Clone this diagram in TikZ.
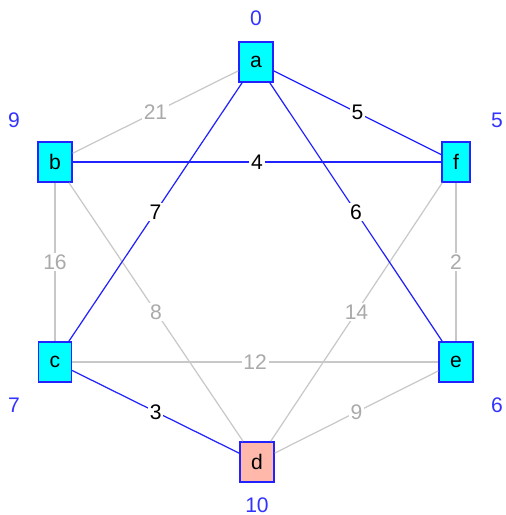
\documentclass[tikz,border=0pt]{standalone}
\usepackage{fontspec}
\setmainfont{Liberation Sans}
\usepackage{tikz}
\usepackage{xcolor}
\usetikzlibrary{arrows.meta,positioning}
\definecolor{vtxcyan} {HTML}{00FFFF}
\definecolor{vtxpink} {HTML}{FFB8AA}
\definecolor{treeblue}{HTML}{2222FF}
\definecolor{keyblue} {HTML}{3333FF}
\definecolor{restgray}{HTML}{C8C8C8}
\tikzset{
  vtxbox/.style   ={draw=treeblue, fill=vtxcyan, line width=0.9pt,
                    minimum height=0.8cm, inner xsep=6.3pt,
                    font=\fontsize{12}{14}\selectfont},
  startbox/.style ={vtxbox, fill=vtxpink},
  keylbl/.style   ={text=keyblue, font=\fontsize{12}{14}\selectfont},
  treeedge/.style ={draw=treeblue, line width=0.7pt},
  restedge/.style ={draw=restgray, line width=0.7pt},
  treewt/.style   ={midway, fill=white, inner sep=1pt, text=black,
                    font=\fontsize{12}{14}\selectfont},
  restwt/.style   ={midway, fill=white, inner sep=1pt, text=restgray!85!black,
                    font=\fontsize{12}{14}\selectfont},
}

\begin{document}
\begin{tikzpicture}[x=0.02cm,y=-0.02cm]
    \useasboundingbox (0,0) rectangle (505,515);
    % vertices
    \node[vtxbox]   (a) at (256,62)  {a};
    \node[vtxbox]   (b) at (55,162)  {b};
    \node[vtxbox]   (f) at (456,162) {f};
    \node[vtxbox]   (c) at (55,362)  {c};
    \node[vtxbox]   (e) at (456,362) {e};
    \node[startbox] (d) at (257,462) {d};

    % distance keys
    \node[keylbl] (ka) at (256,18)  {0};
    \node[keylbl] (kb) at (14,120)  {9};
    \node[keylbl] (kf) at (497,120) {5};
    \node[keylbl] (kc) at (14,405)  {7};
    \node[keylbl] (ke) at (497,405) {6};
    \node[keylbl] (kd) at (257,505) {10};

    % non-tree edges
    \draw[restedge] (a) -- node[restwt] {21} (b);
    \draw[restedge] (b) -- node[restwt] {16} (c);
    \draw[restedge] (b) -- node[restwt] {8}  (d);
    \draw[restedge] (f) -- node[restwt] {2}  (e);
    \draw[restedge] (f) -- node[restwt] {14} (d);
    \draw[restedge] (c) -- node[restwt] {12} (e);
    \draw[restedge] (e) -- node[restwt] {9}  (d);

    % tree edges
    \draw[treeedge] (a) -- node[treewt] {5} (f);
    \draw[treeedge] (b) -- node[treewt] {4} (f);
    \draw[treeedge] (a) -- node[treewt] {7} (c);
    \draw[treeedge] (a) -- node[treewt] {6} (e);
    \draw[treeedge] (c) -- node[treewt] {3} (d);
\end{tikzpicture}
\end{document}
